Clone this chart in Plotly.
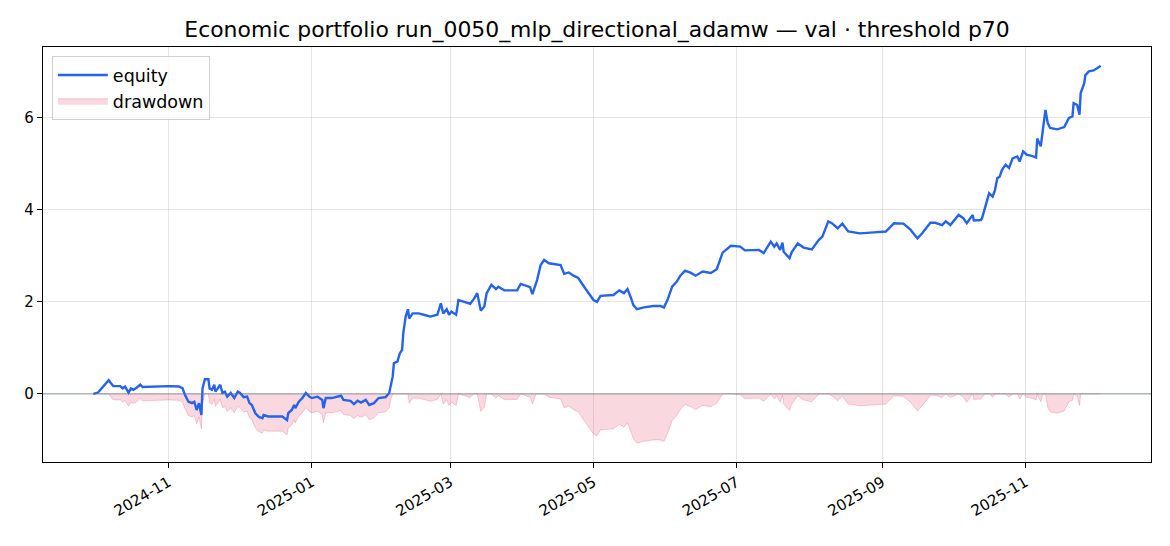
import pandas as pd
import plotly.graph_objects as go

# equity curve
dates = [
    "2024-09-30", "2024-10-02", "2024-10-03", "2024-10-04 12:00", "2024-10-06 12:00",
    "2024-10-07 12:00", "2024-10-08 12:00", "2024-10-11 12:00", "2024-10-12 12:00", "2024-10-13 12:00",
    "2024-10-15", "2024-10-16", "2024-10-17", "2024-10-18", "2024-10-20",
    "2024-10-21", "2024-10-25", "2024-10-29 12:00", "2024-11-01", "2024-11-05 12:00",
    "2024-11-07", "2024-11-08", "2024-11-09 12:00", "2024-11-11", "2024-11-12",
    "2024-11-13", "2024-11-14", "2024-11-15", "2024-11-15 12:00", "2024-11-16 12:00",
    "2024-11-18", "2024-11-18 12:00", "2024-11-19 12:00", "2024-11-20 12:00", "2024-11-21",
    "2024-11-22", "2024-11-23", "2024-11-24", "2024-11-25", "2024-11-26",
    "2024-11-27 12:00", "2024-11-29", "2024-11-30 12:00", "2024-12-01 12:00", "2024-12-03",
    "2024-12-04 12:00", "2024-12-05 12:00", "2024-12-06 12:00", "2024-12-08", "2024-12-09 12:00",
    "2024-12-11", "2024-12-11 12:00", "2024-12-13 12:00", "2024-12-16 12:00", "2024-12-19 12:00",
    "2024-12-21 12:00", "2024-12-22", "2024-12-23 12:00", "2024-12-24 12:00", "2024-12-25",
    "2024-12-26 12:00", "2024-12-28", "2024-12-29 12:00", "2024-12-31", "2025-01-01",
    "2025-01-03 12:00", "2025-01-05 12:00", "2025-01-06", "2025-01-07", "2025-01-09 12:00",
    "2025-01-13 12:00", "2025-01-14 12:00", "2025-01-17 12:00", "2025-01-19", "2025-01-20 12:00",
    "2025-01-22", "2025-01-24", "2025-01-25 12:00", "2025-01-27 12:00", "2025-01-29 12:00",
    "2025-02-01 12:00", "2025-02-03", "2025-02-03 12:00", "2025-02-04 12:00", "2025-02-05",
    "2025-02-06 12:00", "2025-02-07 12:00", "2025-02-08 12:00", "2025-02-09", "2025-02-10",
    "2025-02-11", "2025-02-11 12:00", "2025-02-13", "2025-02-15 12:00", "2025-02-18 12:00",
    "2025-02-20 12:00", "2025-02-23 12:00", "2025-02-25", "2025-02-26", "2025-02-27 12:00",
    "2025-02-28 12:00", "2025-03-01 12:00", "2025-03-03 12:00", "2025-03-04 12:00", "2025-03-07",
    "2025-03-09 12:00", "2025-03-11", "2025-03-12 12:00", "2025-03-14", "2025-03-15 12:00",
    "2025-03-16 12:00", "2025-03-18 12:00", "2025-03-20 12:00", "2025-03-21 12:00", "2025-03-24",
    "2025-03-26 12:00", "2025-03-29 12:00", "2025-03-31", "2025-04-02", "2025-04-04",
    "2025-04-05", "2025-04-06 12:00", "2025-04-07", "2025-04-08 12:00", "2025-04-10",
    "2025-04-12", "2025-04-14", "2025-04-17", "2025-04-18 12:00", "2025-04-20 12:00",
    "2025-04-22 12:00", "2025-04-24 12:00", "2025-04-27", "2025-04-29", "2025-05-01",
    "2025-05-02 12:00", "2025-05-04", "2025-05-09 12:00", "2025-05-12", "2025-05-14",
    "2025-05-15 12:00", "2025-05-17", "2025-05-18", "2025-05-19 12:00", "2025-05-22 12:00",
    "2025-05-26 12:00", "2025-05-29 12:00", "2025-05-31", "2025-06-01 12:00", "2025-06-03 12:00",
    "2025-06-05 12:00", "2025-06-07", "2025-06-09", "2025-06-11 12:00", "2025-06-13 12:00",
    "2025-06-16 12:00", "2025-06-20", "2025-06-22 12:00", "2025-06-25", "2025-06-28 12:00",
    "2025-07-02 12:00", "2025-07-04 12:00", "2025-07-10 12:00", "2025-07-12 12:00", "2025-07-15 12:00",
    "2025-07-17", "2025-07-18", "2025-07-19 12:00", "2025-07-20 12:00", "2025-07-21",
    "2025-07-23 12:00", "2025-07-24 12:00", "2025-07-27", "2025-07-29 12:00", "2025-08-02",
    "2025-08-05", "2025-08-06 12:00", "2025-08-09", "2025-08-10 12:00", "2025-08-13",
    "2025-08-15", "2025-08-17 12:00", "2025-08-22 12:00", "2025-08-28 12:00", "2025-09-02 12:00",
    "2025-09-06", "2025-09-10", "2025-09-13", "2025-09-16", "2025-09-18",
    "2025-09-21 12:00", "2025-09-23 12:00", "2025-09-26 12:00", "2025-09-28", "2025-09-30",
    "2025-10-03 12:00", "2025-10-05 12:00", "2025-10-07", "2025-10-09 12:00", "2025-10-10",
    "2025-10-13", "2025-10-13 12:00", "2025-10-15", "2025-10-16 12:00", "2025-10-18",
    "2025-10-19", "2025-10-20", "2025-10-21", "2025-10-22", "2025-10-23 12:00",
    "2025-10-25", "2025-10-26 12:00", "2025-10-28 12:00", "2025-10-29 12:00", "2025-10-31",
    "2025-11-01 12:00", "2025-11-04", "2025-11-05 12:00", "2025-11-06", "2025-11-07 12:00",
    "2025-11-08 12:00", "2025-11-09 12:00", "2025-11-10 12:00", "2025-11-11 12:00", "2025-11-14 12:00",
    "2025-11-17 12:00", "2025-11-19 12:00", "2025-11-21", "2025-11-21 12:00", "2025-11-23",
    "2025-11-24", "2025-11-24 12:00", "2025-11-26", "2025-11-26 12:00", "2025-11-28",
    "2025-11-30", "2025-12-01 12:00", "2025-12-03",
]
equity = [
    0.00, 0.03, 0.09, 0.17, 0.30, 0.23, 0.17, 0.17, 0.12, 0.16,
    0.03, 0.12, 0.09, 0.12, 0.20, 0.15, 0.16, 0.16, 0.17, 0.16,
    0.12, -0.02, -0.17, -0.20, -0.17, -0.35, -0.20, -0.46, 0.12, 0.32,
    0.32, 0.12, 0.09, 0.20, 0.05, 0.12, 0.20, 0.02, 0.05, -0.06,
    0.02, -0.09, 0.05, 0.02, -0.07, -0.06, -0.20, -0.24, -0.42, -0.50,
    -0.53, -0.46, -0.49, -0.49, -0.49, -0.57, -0.42, -0.35, -0.24, -0.31,
    -0.17, -0.09, 0.02, -0.06, -0.09, -0.06, -0.13, -0.31, -0.09, -0.09,
    -0.04, -0.13, -0.15, -0.22, -0.15, -0.19, -0.13, -0.24, -0.20, -0.09,
    -0.07, 0.02, 0.16, 0.38, 0.67, 0.70, 0.88, 0.96, 1.32, 1.68,
    1.84, 1.64, 1.75, 1.75, 1.71, 1.68, 1.72, 1.97, 1.75, 1.84,
    1.72, 1.79, 1.72, 2.04, 2.00, 1.96, 2.06, 2.19, 1.81, 1.90,
    2.19, 2.37, 2.28, 2.33, 2.25, 2.25, 2.25, 2.39, 2.35, 2.32,
    2.17, 2.41, 2.48, 2.80, 2.91, 2.84, 2.83, 2.80, 2.61, 2.64,
    2.57, 2.52, 2.33, 2.19, 2.04, 2.00, 2.13, 2.15, 2.25, 2.19,
    2.28, 2.08, 1.93, 1.84, 1.88, 1.91, 1.91, 1.88, 2.04, 2.33,
    2.44, 2.57, 2.68, 2.63, 2.57, 2.66, 2.63, 2.71, 3.07, 3.22,
    3.20, 3.12, 3.13, 3.06, 3.31, 3.20, 3.27, 3.13, 3.29, 3.09,
    2.95, 3.09, 3.27, 3.18, 3.14, 3.35, 3.42, 3.75, 3.71, 3.60,
    3.70, 3.53, 3.49, 3.51, 3.53, 3.71, 3.70, 3.57, 3.38, 3.49,
    3.72, 3.72, 3.67, 3.75, 3.67, 3.89, 3.82, 3.71, 3.89, 3.77,
    3.78, 3.82, 4.07, 4.36, 4.29, 4.43, 4.69, 4.72, 4.87, 4.98,
    4.91, 5.12, 5.16, 5.05, 5.27, 5.20, 5.17, 5.14, 5.55, 5.38,
    5.78, 6.17, 5.88, 5.78, 5.75, 5.80, 6.00, 6.03, 6.32, 6.28,
    6.07, 6.54, 6.75, 6.93, 7.01, 7.03, 7.08, 7.13,
]
y_ticks = [0, 2, 4, 6]
x_ticks = ["2024-11-01", "2025-01-01", "2025-03-01", "2025-05-01",
           "2025-07-01", "2025-09-01", "2025-11-01"]
x_tick_labels = ["2024-11", "2025-01", "2025-03", "2025-05",
                 "2025-07", "2025-09", "2025-11"]

df = pd.DataFrame({"date": pd.to_datetime(dates, format="mixed"), "equity": equity})
df["drawdown"] = df["equity"] - df["equity"].cummax()

# matplotlib-like 5% margins
span = df["date"].max() - df["date"].min()
x_range = [df["date"].min() - span * 0.05, df["date"].max() + span * 0.05]
lo, hi = df["drawdown"].min(), df["equity"].max()
y_range = [lo - (hi - lo) * 0.05, hi + (hi - lo) * 0.05]

fig = go.Figure()
fig.add_trace(go.Scatter(
    x=df["date"], y=df["drawdown"], name="drawdown", mode="lines",
    fill="tozeroy", fillcolor="rgba(232,62,100,0.2)",
    line=dict(color="rgba(232,62,100,0.25)", width=1),
))
fig.add_trace(go.Scatter(
    x=df["date"], y=df["equity"], name="equity", mode="lines",
    line=dict(color="#2563eb", width=2.4),
))
fig.add_hline(y=0, line=dict(color="rgba(100,110,130,0.55)", width=1.2))

# page body has an 8px margin, so size/margins are trimmed by 8px
fig.update_layout(
    width=1162, height=538,
    margin=dict(l=35, r=19, t=39, b=84),
    paper_bgcolor="white", plot_bgcolor="white",
    font=dict(family="DejaVu Sans", size=15, color="black"),
    title=dict(text="Economic portfolio run_0050_mlp_directional_adamw — val · threshold p70",
               xref="paper", x=0.5, xanchor="center",
               yref="container", y=0.961, yanchor="middle",
               font=dict(size=21.9)),
    showlegend=True,
    legend=dict(x=0.008, y=0.978, xanchor="left", yanchor="top",
                bgcolor="rgba(255,255,255,0.8)", bordercolor="#d0d0d0",
                borderwidth=1, font=dict(size=17.5), traceorder="reversed",
                itemwidth=50, tracegroupgap=2),
)
fig.update_xaxes(
    range=x_range, tickvals=x_ticks, ticktext=x_tick_labels, tickangle=-30,
    showgrid=True, gridcolor="rgba(0,0,0,0.1)", gridwidth=1,
    showline=True, linecolor="black", linewidth=1.2, mirror=True,
    ticks="outside", ticklen=5, tickcolor="black", zeroline=False,
)
fig.update_yaxes(
    range=y_range, tickvals=y_ticks,
    showgrid=True, gridcolor="rgba(0,0,0,0.1)", gridwidth=1,
    showline=True, linecolor="black", linewidth=1.2, mirror=True,
    ticks="outside", ticklen=5, tickcolor="black", zeroline=False,
)
fig.write_html("out.html")
